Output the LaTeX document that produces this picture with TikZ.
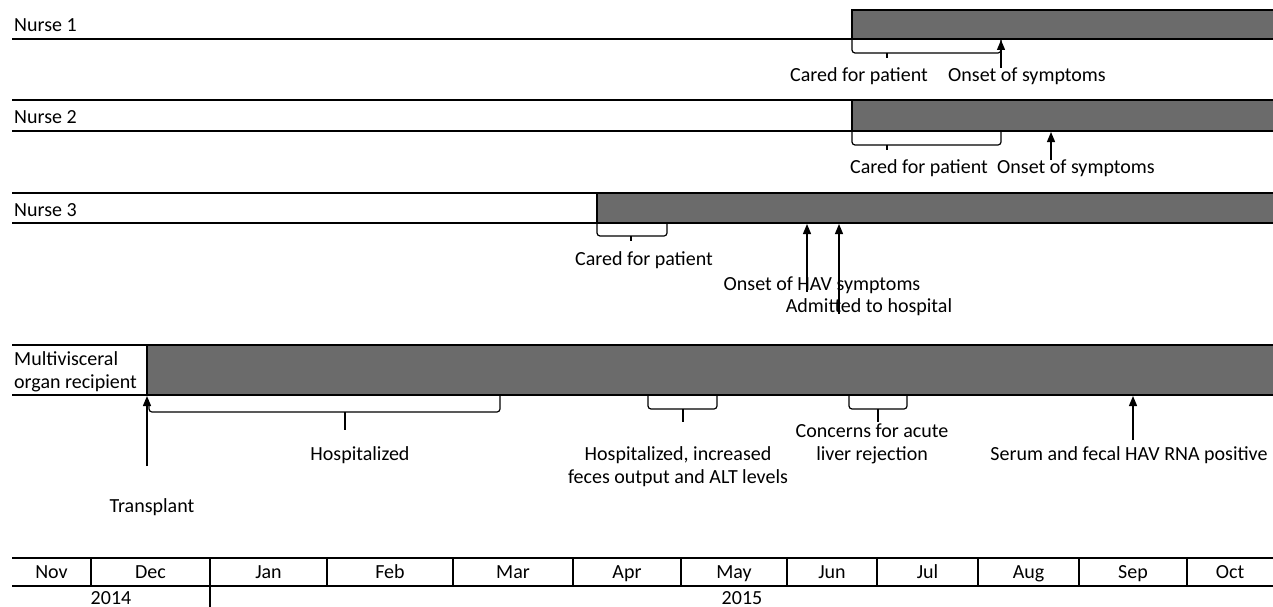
\documentclass[tikz,border=0pt]{standalone}
\usepackage{fontspec}
\setmainfont{Carlito}
\usetikzlibrary{arrows.meta}
\definecolor{bargray}{RGB}{107,107,107}

\begin{document}
\begin{tikzpicture}[x=1pt,y=-1pt,>={Triangle[length=10pt,width=8pt]},
  every node/.style={font=\fontsize{20}{23}\selectfont,inner sep=0pt}]
  \tikzset{rowline/.style={line width=1.8pt},
    brace/.style={line width=1.2pt,rounded corners=3pt},
    pointer/.style={->,line width=1.3pt},
    lbl/.style={anchor=base}}
  \useasboundingbox (0,0) rectangle (1273,607);

  % Nurse 1
  \fill[bargray] (852,10) rectangle (1273,39);
  \draw[rowline] (12,39) -- (1273,39);
  \draw[rowline] (852,39) -- (852,10) -- (1273,10);
  \node[anchor=base west] (nurse1) at (14,32) {Nurse 1};
  \draw[brace] (852,40) |- (1001,53) -- (1001,40);
  \draw[brace] (887,53) -- (887,58);
  \node[lbl] (n1cared) at (859,82) {Cared for patient};
  \node[lbl] (n1onset) at (1027,82) {Onset of symptoms};
  \coordinate (n1from) at (1001,68);
  \coordinate (n1hit) at (1001,40);
  \draw[pointer] (n1from) -- (n1hit);

  % Nurse 2
  \fill[bargray] (852,100) rectangle (1273,131);
  \draw[rowline] (12,100) -- (1273,100);
  \draw[rowline] (12,131) -- (1273,131);
  \draw[rowline] (852,100) -- (852,131);
  \node[anchor=base west] (nurse2) at (14,124) {Nurse 2};
  \draw[brace] (852,132) |- (1001,145) -- (1001,132);
  \draw[brace] (887,145) -- (887,150);
  \node[lbl] (n2cared) at (919,173) {Cared for patient};
  \node[lbl] (n2onset) at (1076,173) {Onset of symptoms};
  \coordinate (n2from) at (1051,160);
  \coordinate (n2hit) at (1051,132);
  \draw[pointer] (n2from) -- (n2hit);

  % Nurse 3
  \fill[bargray] (597,193) rectangle (1273,223);
  \draw[rowline] (12,193) -- (1273,193);
  \draw[rowline] (12,223) -- (1273,223);
  \draw[rowline] (597,193) -- (597,223);
  \node[anchor=base west] (nurse3) at (14,216) {Nurse 3};
  \draw[brace] (597,224) |- (667,236) -- (667,224);
  \draw[brace] (631,236) -- (631,241);
  \node[lbl] (n3cared) at (644,265) {Cared for patient};
  \node[lbl] (n3onset) at (822,290) {Onset of HAV symptoms};
  \node[lbl] (n3admit) at (869,312) {Admitted to hospital};
  \coordinate (n3onsetfrom) at (807,292);
  \coordinate (n3onsethit) at (807,224);
  \coordinate (n3admitfrom) at (839,314);
  \coordinate (n3admithit) at (839,224);
  \draw[pointer] (n3onsetfrom) -- (n3onsethit);
  \draw[pointer] (n3admitfrom) -- (n3admithit);

  % Multivisceral organ recipient
  \fill[bargray] (147,345) rectangle (1273,395);
  \draw[rowline] (12,345) -- (1273,345);
  \draw[rowline] (12,395) -- (1273,395);
  \draw[rowline] (147,345) -- (147,395);
  \node[anchor=base west,align=left] (recipient) at (14,388) {Multivisceral\\organ recipient};
  \coordinate (txfrom) at (147,466);
  \coordinate (txhit) at (147,396);
  \draw[pointer] (txfrom) -- (txhit);
  \node[lbl] (transplant) at (152,512) {Transplant};
  \draw[brace] (149,403) |- (500,412) -- (500,396);
  \draw[brace] (345,412) -- (345,430);
  \node[lbl] (hosp) at (360,460) {Hospitalized};
  \draw[brace] (648,396) |- (717,409) -- (717,396);
  \draw[brace] (683,409) -- (683,422);
  \node[lbl,align=center] (hospalt) at (678,483) {Hospitalized, increased\\feces output and ALT levels};
  \draw[brace] (849,396) |- (907,409) -- (907,396);
  \draw[brace] (878,409) -- (878,422);
  \node[lbl,align=center] (rejection) at (872,460) {Concerns for acute\\liver rejection};
  \coordinate (rnafrom) at (1133,440);
  \coordinate (rnahit) at (1133,396);
  \draw[pointer] (rnafrom) -- (rnahit);
  \node[lbl] (rna) at (1129,460) {Serum and fecal HAV RNA positive};

  % Months
  \draw[rowline] (12,558) -- (1273,558);
  \draw[rowline] (12,586) -- (1273,586);
  \foreach \m/\a/\b in {Nov/12/91,Dec/91/210,Jan/210/327,Feb/327/453,Mar/453/573,
      Apr/573/681,May/681/787,Jun/787/877,Jul/877/978,Aug/978/1079,Sep/1079/1187,Oct/1187/1273}
    \node[lbl] (m\m) at ({(\a+\b)/2},578) {\m};
  \foreach \x in {91,327,453,573,681,787,877,978,1079,1187}
    \draw[rowline] (\x,558) -- (\x,586);
  \draw[rowline] (210,558) -- (210,607);
  \node[lbl] (y2014) at (111,604) {2014};
  \node[lbl] (y2015) at (742,604) {2015};
\end{tikzpicture}
\end{document}
